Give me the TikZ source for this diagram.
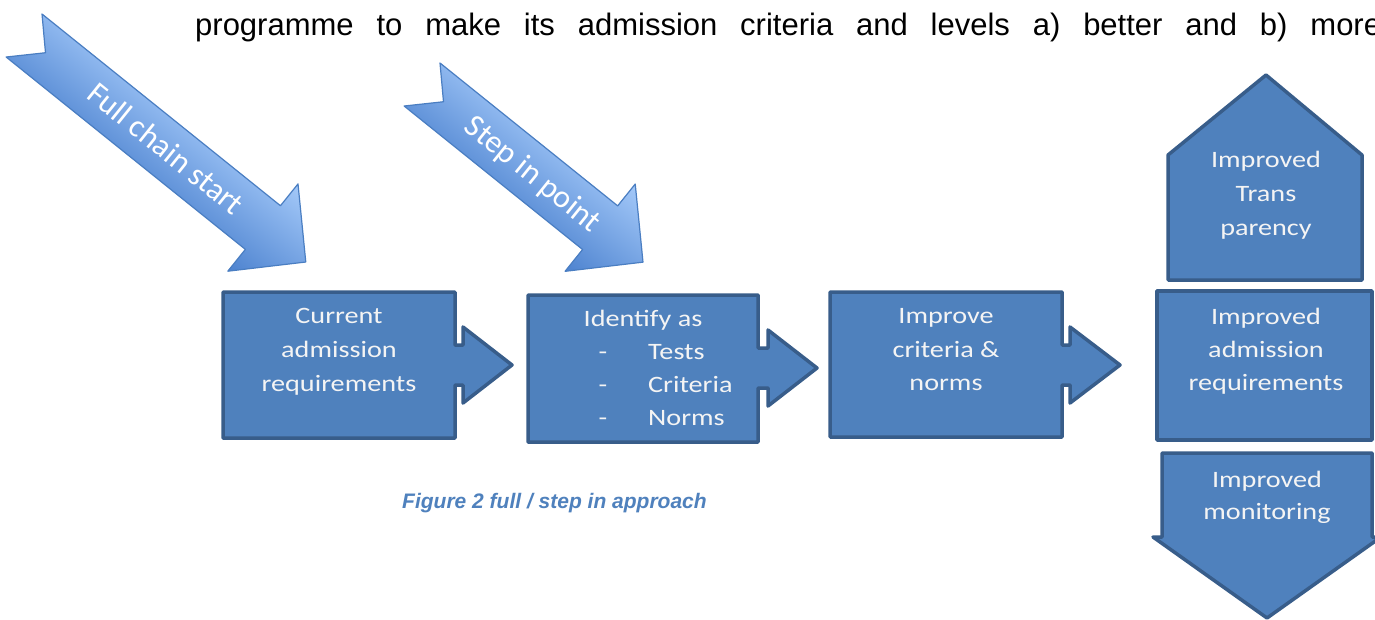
\documentclass[tikz,border=0pt]{standalone}
\usepackage{fontspec}
\setmainfont{Liberation Sans}
\newfontfamily\boxfont[FakeStretch=1.2]{Carlito}
\newfontfamily\arrowfont{Carlito}
\definecolor{boxfill}{HTML}{4F81BD}
\definecolor{boxline}{HTML}{385D8A}
\definecolor{boxtxt}{HTML}{F4F4F4}
\definecolor{arrlight}{HTML}{A4C9F9}
\definecolor{arrdark}{HTML}{4C82CF}
\definecolor{arrline}{HTML}{4A7EC2}
\definecolor{captcol}{HTML}{4F81BD}
\tikzset{
  flowbox/.style={fill=boxfill, draw=boxline, line width=3.5pt, line join=round},
  boxtext/.style={text=boxtxt, font=\boxfont\fontsize{23.5}{28}\selectfont, inner sep=0pt, anchor=base},
  boxitem/.style={boxtext, anchor=base west},
  slantfill/.style={top color=arrlight, bottom color=arrdark, draw=arrline, line width=1.2pt, line join=round},
  slanttext/.style={text=white, font=\arrowfont\fontsize{32}{38}\selectfont, inner sep=0pt, anchor=base},
}
\newcommand\slantarrow[6]{%
  \begin{scope}[transform canvas={shift={(#2pt,-#3pt)},rotate=-38.8},x=1pt,y=1pt]
    \path[slantfill] (0,0) -- (#4,0) -- (#4,28) -- (#4+55,-28) -- (#4,-84) -- (#4,-56) -- (-1,-56) -- (27,-28) -- cycle;
    \node[slanttext] (#1) at (#5,-38) {#6};
  \end{scope}}
\begin{document}
\begin{tikzpicture}[x=1pt,y=-1pt]
\useasboundingbox (0,0) rectangle (1375,619);
\fill[white] (0,0) rectangle (1375,619);

% intro text line
\node[anchor=base west, inner sep=0pt, font=\fontsize{31}{36}\selectfont] (intro) at (195,35)
  {\makebox[1186pt][s]{programme to make its admission criteria and levels a) better and b) more}};

% slanted arrows
\slantarrow{fullchain}{42}{14}{306}{181}{Full chain start}
\slantarrow{stepin}{440}{63}{228}{142}{Step in point}

% box 1
\path[flowbox] (223,292) -- (455,292) -- (455,345) -- (463,345) -- (463,327) -- (512,365) -- (463,403) -- (463,385) -- (455,385) -- (455,438) -- (223,438) -- cycle;
\node[boxtext] (b1a) at (339,323) {Current};
\node[boxtext] (b1b) at (339,357) {admission};
\node[boxtext] (b1c) at (339,391) {requirements};

% box 2
\path[flowbox] (528,295) -- (758,295) -- (758,348) -- (768,348) -- (768,330) -- (817,368) -- (768,406) -- (768,388) -- (758,388) -- (758,442) -- (528,442) -- cycle;
\node[boxtext] (b2a) at (643,326) {Identify as};
\node[boxtext] (b2d1) at (603,359) {-};
\node[boxitem] (b2b) at (648,359) {Tests};
\node[boxtext] (b2d2) at (603,392) {-};
\node[boxitem] (b2c) at (648,392) {Criteria};
\node[boxtext] (b2d3) at (603,425) {-};
\node[boxitem] (b2e) at (648,425) {Norms};

% box 3
\path[flowbox] (830,292) -- (1062,292) -- (1062,345) -- (1070,345) -- (1070,327) -- (1120,365) -- (1070,403) -- (1070,385) -- (1062,385) -- (1062,437) -- (830,437) -- cycle;
\node[boxtext] (b3a) at (946,323) {Improve};
\node[boxtext] (b3b) at (946,357) {criteria \&};
\node[boxtext] (b3c) at (946,390) {norms};

% right column
\path[flowbox] (1266,75) -- (1362,155) -- (1362,280) -- (1168,280) -- (1168,155) -- cycle;
\node[boxtext] (t1) at (1266,167) {Improved};
\node[boxtext] (t2) at (1266,201) {Trans};
\node[boxtext] (t3) at (1266,235) {parency};

\path[flowbox] (1157,291) rectangle (1372,440);
\node[boxtext] (m1) at (1266,324) {Improved};
\node[boxtext] (m2) at (1266,357) {admission};
\node[boxtext] (m3) at (1266,390) {requirements};

\path[flowbox] (1162,453) -- (1372,453) -- (1372,537) -- (1381,537) -- (1267,618) -- (1153,537) -- (1162,537) -- cycle;
\node[boxtext] (d1) at (1267,487) {Improved};
\node[boxtext] (d2) at (1267,519) {monitoring};

% caption
\node[anchor=base west, inner sep=0pt, text=captcol, font=\fontsize{21}{25}\selectfont\bfseries\itshape] (caption) at (402,508) {Figure 2 full / step in approach};
\end{tikzpicture}
\end{document}
